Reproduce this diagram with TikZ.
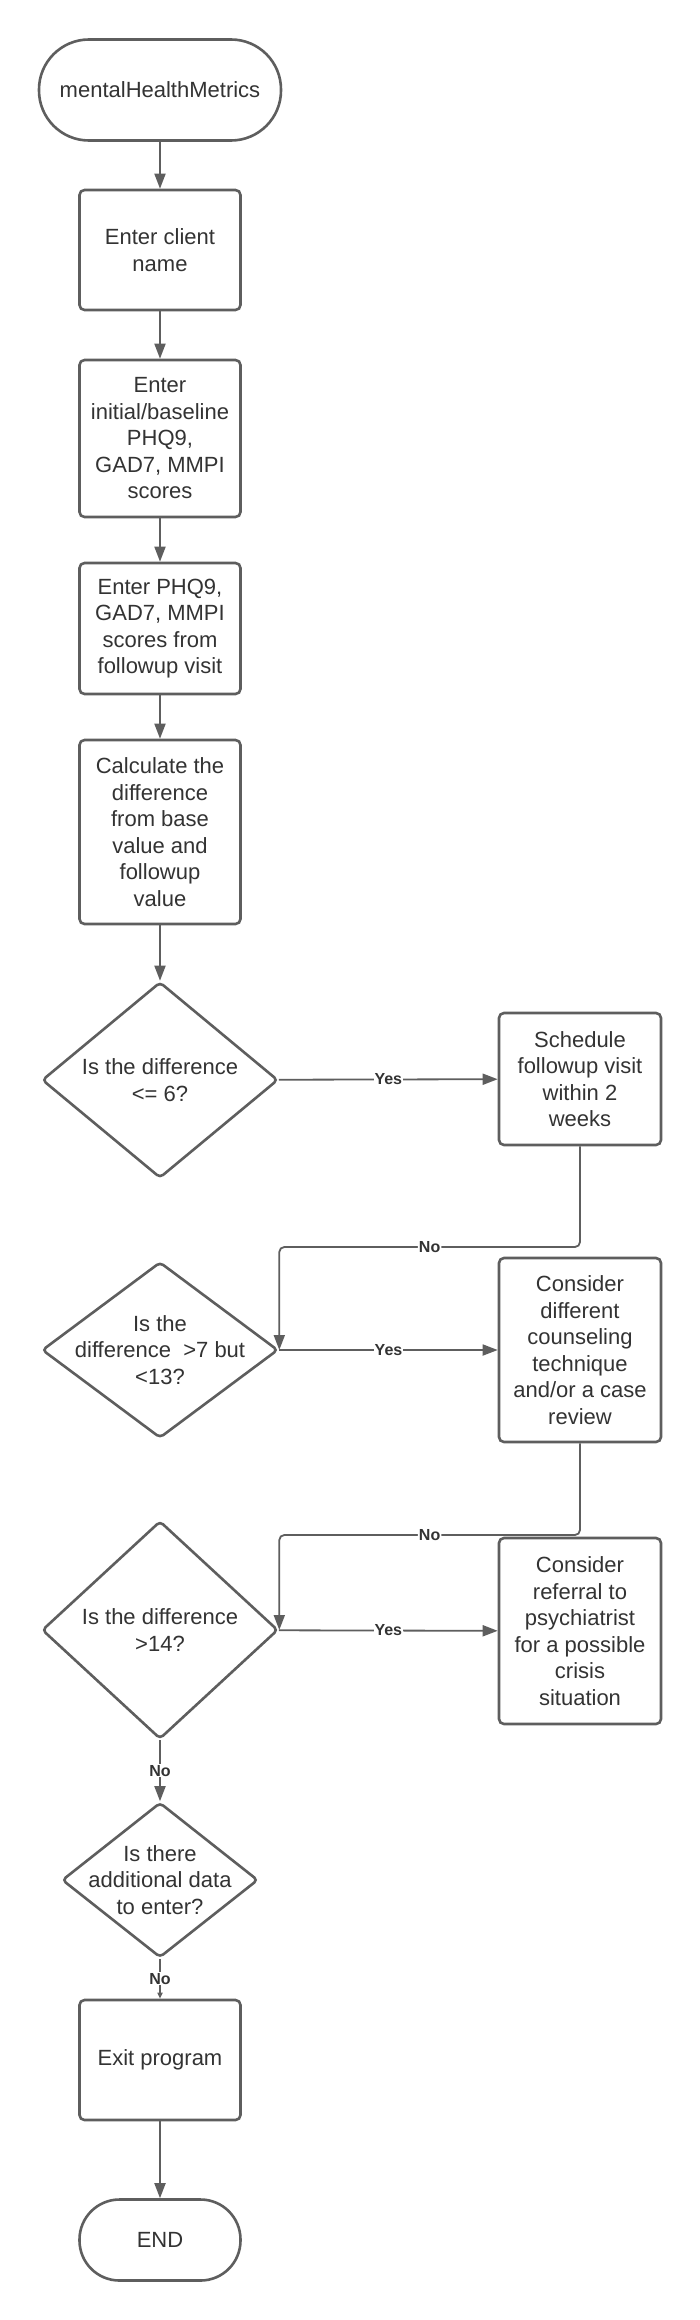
\documentclass[tikz,border=0pt]{standalone}
\usepackage{fontspec}
\setmainfont{Liberation Sans}
\usetikzlibrary{shapes.geometric,arrows.meta}
\definecolor{ln}{HTML}{5E5E5E}
\definecolor{tx}{HTML}{333333}
\begin{document}
\begin{tikzpicture}[x=1pt,y=-1pt,
  base/.style={draw=ln, line width=2.6pt, text=tx, font=\fontsize{22}{26.5}\selectfont, align=center, inner sep=0pt},
  proc/.style={base, rectangle, rounded corners=5pt, minimum width=161pt},
  termbox/.style={base, rectangle},
  dec/.style={base, diamond, rounded corners=4pt},
  dtext/.style={text=tx, font=\fontsize{22}{26.5}\selectfont, align=center, inner sep=0pt},
  conn/.style={draw=ln, line width=1.8pt, -{Triangle[length=15pt,width=11pt]}},
  connsmall/.style={draw=ln, line width=1.8pt, -{Triangle[length=6pt,width=5pt]}},
  lab/.style={fill=white, text=tx, font=\fontsize{16}{18}\selectfont\bfseries, inner sep=1pt}
]
\fill[white] (0,0) rectangle (700,2320);
\useasboundingbox (0,0) rectangle (700,2320);

\node[termbox, rounded corners=50pt, minimum width=242pt, minimum height=101pt] (start) at (160,90) {mentalHealthMetrics};
\node[proc, minimum height=120pt] (b1) at (160,250) {Enter client\\name};
\node[proc, minimum height=157pt] (b2) at (160,438.5) {Enter\\initial/baseline\\PHQ9,\\GAD7, MMPI\\scores};
\node[proc, minimum height=131pt] (b3) at (160,628.5) {Enter PHQ9,\\GAD7, MMPI\\scores from\\followup visit};
\node[proc, minimum height=184pt] (b4) at (160,832) {Calculate the\\difference\\from base\\value and\\followup\\value};

\node[dec, minimum width=236pt, minimum height=196pt,
  label={[dtext]center:Is the difference\\<= 6?}] (d1) at (160,1080) {};
\node[proc, minimum width=162pt, minimum height=132pt] (r1) at (580,1079) {Schedule\\followup visit\\within 2\\weeks};

\node[dec, minimum width=236pt, minimum height=176pt,
  label={[dtext]center:Is the\\difference~~>7 but\\<13?}] (d2) at (160,1350) {};
\node[proc, minimum width=162pt, minimum height=184pt] (r2) at (580,1350) {Consider\\different\\counseling\\technique\\and/or a case\\review};

\node[dec, minimum width=236pt, minimum height=218pt,
  label={[dtext]center:Is the difference\\>14?}] (d3) at (160,1630) {};
\node[proc, minimum width=162pt, minimum height=186pt] (r3) at (580,1631) {Consider\\referral to\\psychiatrist\\for a possible\\crisis\\situation};

\node[dec, minimum width=196pt, minimum height=155pt,
  label={[dtext]center:Is there\\additional data\\to enter?}] (d4) at (160,1880) {};
\node[proc, minimum height=120pt] (exit) at (160,2060) {Exit program};
\node[termbox, rounded corners=40pt, minimum width=161pt, minimum height=81pt] (end) at (160,2240) {END};

\coordinate (k1) at (430,1247);
\coordinate (k2) at (430,1535);

\draw[conn] (start) -- (b1);
\draw[conn] (b1) -- (b2);
\draw[conn] (b2) -- (b3);
\draw[conn] (b3) -- (b4);
\draw[conn] (b4) -- (d1);
\draw[conn] (d1) -- node[lab]{Yes} (r1);
\draw[conn, rounded corners=5pt] (r1.south) -- (r1.south |- k1) -- node[lab]{No} (d2.east |- k1) -- (d2.east);
\draw[conn] (d2) -- node[lab]{Yes} (r2);
\draw[conn, rounded corners=5pt] (r2.south) -- (r2.south |- k2) -- node[lab]{No} (d3.east |- k2) -- (d3.east);
\draw[conn] (d3) -- node[lab]{Yes} (r3);
\draw[conn] (d3) -- node[lab]{No} (d4);
\draw[connsmall] (d4) -- node[lab]{No} (exit);
\draw[conn] (exit) -- (end);
\end{tikzpicture}
\end{document}
